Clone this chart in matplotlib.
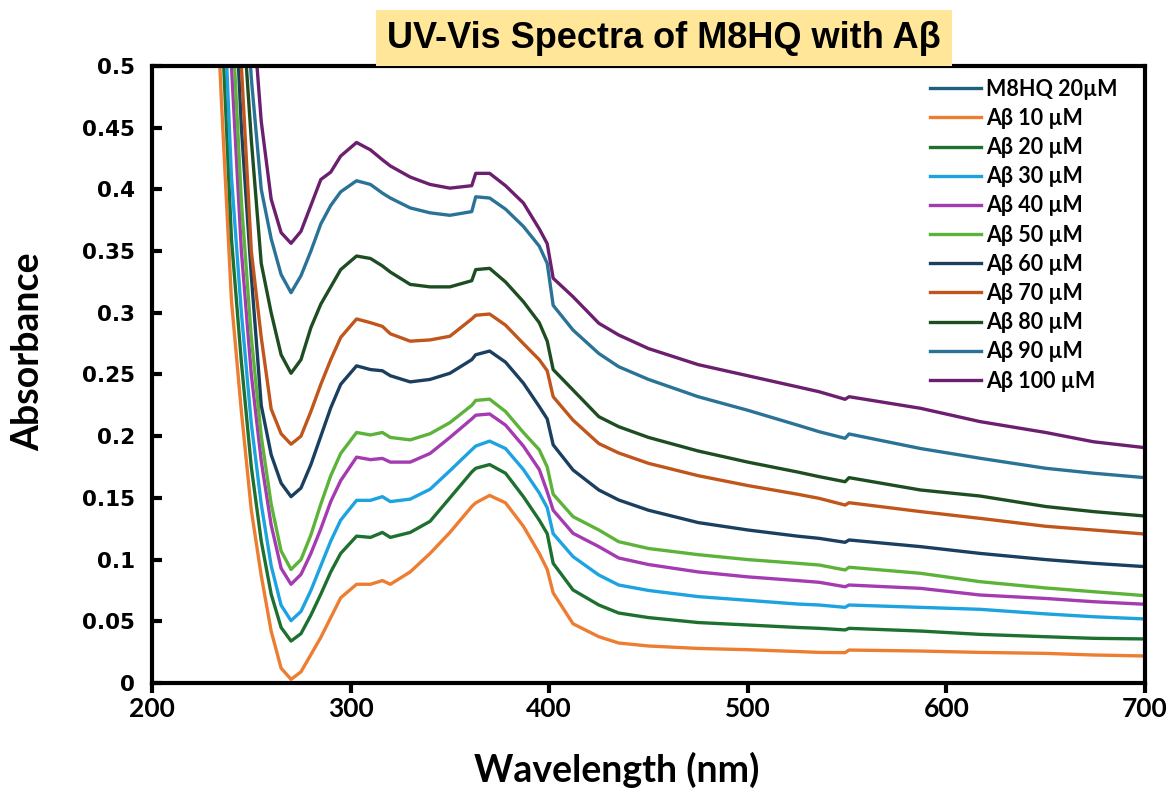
import numpy as np
import matplotlib
matplotlib.use("Agg")
import matplotlib.pyplot as plt

# wavelength grid (nm) shared by the A-beta series
wl = [228, 235, 240, 245, 250, 255, 260, 265, 270, 275, 280, 285, 290, 295,
      303, 310, 316, 320, 330, 340, 350, 361, 363, 370, 378, 387, 395, 399,
      402, 412, 425, 435, 450, 475, 500, 525, 536, 549, 551, 587, 617, 650,
      674, 700]

ab10 = [0.72, 0.47, 0.31, 0.22, 0.14, 0.087, 0.042, 0.012, 0.003, 0.009, 0.023, 0.037, 0.053, 0.069,
        0.080, 0.080, 0.083, 0.080, 0.090, 0.105, 0.122, 0.143, 0.146, 0.152, 0.146, 0.127, 0.105, 0.092,
        0.073, 0.048, 0.0375, 0.0324, 0.030, 0.028, 0.027, 0.0255, 0.0248, 0.0246, 0.0267, 0.0259, 0.0248, 0.0240,
        0.0227, 0.0219]
ab20 = [0.78, 0.54, 0.36, 0.26, 0.175, 0.115, 0.072, 0.045, 0.034, 0.040, 0.055, 0.072, 0.090, 0.105,
        0.119, 0.118, 0.122, 0.118, 0.122, 0.131, 0.150, 0.171, 0.174, 0.177, 0.170, 0.151, 0.132, 0.121,
        0.097, 0.0754, 0.0632, 0.0567, 0.053, 0.049, 0.047, 0.045, 0.0443, 0.043, 0.0443, 0.0421, 0.0394, 0.0375,
        0.0362, 0.0357]
ab30 = [0.84, 0.60, 0.41, 0.30, 0.21, 0.145, 0.095, 0.063, 0.0505, 0.058, 0.075, 0.095, 0.115, 0.132,
        0.148, 0.148, 0.151, 0.147, 0.149, 0.157, 0.172, 0.189, 0.192, 0.196, 0.190, 0.173, 0.154, 0.142,
        0.121, 0.1024, 0.0875, 0.0794, 0.075, 0.070, 0.067, 0.064, 0.0632, 0.0613, 0.0632, 0.0613, 0.0597, 0.056,
        0.0537, 0.0519]
ab40 = [0.90, 0.66, 0.50, 0.35, 0.25, 0.18, 0.128, 0.093, 0.080, 0.088, 0.105, 0.125, 0.147, 0.164,
        0.183, 0.181, 0.182, 0.179, 0.179, 0.186, 0.199, 0.214, 0.217, 0.218, 0.209, 0.192, 0.173, 0.155,
        0.140, 0.1213, 0.1105, 0.1013, 0.096, 0.090, 0.086, 0.083, 0.0816, 0.078, 0.0794, 0.0767, 0.0713, 0.0685,
        0.0659, 0.0638]
ab50 = [0.95, 0.72, 0.55, 0.39, 0.28, 0.20, 0.145, 0.107, 0.092, 0.100, 0.120, 0.145, 0.168, 0.186,
        0.203, 0.201, 0.203, 0.199, 0.197, 0.202, 0.211, 0.225, 0.229, 0.230, 0.220, 0.203, 0.189, 0.175,
        0.153, 0.1348, 0.124, 0.1145, 0.109, 0.104, 0.100, 0.097, 0.0956, 0.0916, 0.0938, 0.0889, 0.0821, 0.077,
        0.074, 0.0708]
ab60 = [0.98, 0.78, 0.62, 0.45, 0.33, 0.225, 0.185, 0.162, 0.151, 0.158, 0.177, 0.200, 0.223, 0.242,
        0.257, 0.254, 0.253, 0.249, 0.244, 0.246, 0.251, 0.262, 0.266, 0.269, 0.260, 0.243, 0.224, 0.214,
        0.193, 0.1726, 0.1564, 0.1483, 0.140, 0.130, 0.124, 0.119, 0.1172, 0.114, 0.1159, 0.1105, 0.105, 0.100,
        0.097, 0.0943]
ab70 = [1.0, 0.82, 0.66, 0.50, 0.35, 0.28, 0.222, 0.202, 0.1935, 0.200, 0.220, 0.242, 0.262, 0.280,
        0.295, 0.292, 0.289, 0.283, 0.277, 0.278, 0.281, 0.295, 0.298, 0.299, 0.290, 0.275, 0.262, 0.253,
        0.232, 0.213, 0.194, 0.1864, 0.178, 0.168, 0.160, 0.153, 0.1496, 0.1442, 0.1461, 0.1389, 0.1334, 0.127,
        0.124, 0.1207]
ab80 = [1.0, 0.85, 0.70, 0.56, 0.44, 0.34, 0.30, 0.266, 0.251, 0.262, 0.288, 0.307, 0.321, 0.335,
        0.346, 0.344, 0.338, 0.333, 0.323, 0.321, 0.321, 0.326, 0.335, 0.336, 0.325, 0.309, 0.292, 0.277,
        0.254, 0.2374, 0.2158, 0.2077, 0.199, 0.188, 0.179, 0.171, 0.1672, 0.1631, 0.1664, 0.1564, 0.1515, 0.143,
        0.1389, 0.1353]
ab90 = [1.0, 0.90, 0.76, 0.62, 0.49, 0.40, 0.36, 0.331, 0.3163, 0.330, 0.350, 0.372, 0.387, 0.398,
        0.407, 0.404, 0.397, 0.393, 0.385, 0.381, 0.379, 0.382, 0.394, 0.393, 0.384, 0.370, 0.354, 0.340,
        0.306, 0.286, 0.267, 0.2563, 0.246, 0.232, 0.221, 0.209, 0.2036, 0.1983, 0.2018, 0.190, 0.1821, 0.174,
        0.170, 0.1664]
ab100 = [1.0, 0.95, 0.82, 0.69, 0.56, 0.455, 0.392, 0.365, 0.3563, 0.366, 0.387, 0.408, 0.414, 0.427,
         0.438, 0.432, 0.424, 0.419, 0.410, 0.404, 0.401, 0.403, 0.413, 0.413, 0.403, 0.389, 0.368, 0.356,
         0.328, 0.313, 0.2915, 0.282, 0.271, 0.258, 0.249, 0.240, 0.236, 0.2299, 0.232, 0.2226, 0.2118, 0.203,
         0.1955, 0.1907]

# M8HQ alone only shows as a sliver at the left edge
m8hq_wl = [200, 201]
m8hq = [0.44, 1.2]

labels = ['M8HQ 20µM', 'Aβ 10 µM', 'Aβ 20 µM', 'Aβ 30 µM', 'Aβ 40 µM', 'Aβ 50 µM',
          'Aβ 60 µM', 'Aβ 70 µM', 'Aβ 80 µM', 'Aβ 90 µM', 'Aβ 100 µM']
colors = ['#1F6080', '#ED7D31', '#1D7030', '#1CA3E0', '#A43BB0', '#5DB33A',
          '#1B3F5E', '#C0561B', '#1E4D22', '#2A7397', '#6B1F6E']
series = [ab10, ab20, ab30, ab40, ab50, ab60, ab70, ab80, ab90, ab100]

fig = plt.figure(figsize=(11.73, 7.94), dpi=100)
ax = fig.add_axes([0.1296, 0.1398, 0.8465, 0.7771])

ax.plot(m8hq_wl, m8hq, color=colors[0], lw=2.4, label=labels[0])
for vals, c, lab in zip(series, colors[1:], labels[1:]):
    ax.plot(wl, vals, color=c, lw=2.4, label=lab)

ax.set_xlim(200, 700)
ax.set_ylim(0, 0.5)
ax.set_xticks([200, 300, 400, 500, 600, 700])
yt = [0, 0.05, 0.1, 0.15, 0.2, 0.25, 0.3, 0.35, 0.4, 0.45, 0.5]
ax.set_yticks(yt)
ax.set_yticklabels(['0', '0.05', '0.1', '0.15', '0.2', '0.25', '0.3', '0.35', '0.4', '0.45', '0.5'],
                   family='DejaVu Sans', fontweight='bold', fontsize=15.5)
ax.set_xticklabels(['200', '300', '400', '500', '600', '700'],
                   family='Lato', fontweight='bold', fontsize=19)
ax.tick_params(axis='y', direction='in', length=7, width=3, pad=12)
ax.tick_params(axis='x', direction='out', length=7, width=3, pad=3)
for s in ax.spines.values():
    s.set_linewidth(3)
    s.set_color('black')

fig.text(28 / 1173, 1 - 352 / 794, 'Absorbance', rotation=90, ha='center', va='center',
         family='Lato', fontweight='bold', fontsize=27)
fig.text(617 / 1173, 1 - 770 / 794, 'Wavelength (nm)', ha='center', va='center',
         family='Lato', fontweight='bold', fontsize=27)

fig.text(664 / 1173, 1 - 38 / 794, 'UV-Vis Spectra of M8HQ with Aβ', ha='center', va='center',
         family='Liberation Sans', fontweight='bold', fontsize=26,
         bbox=dict(boxstyle='square,pad=0.3', facecolor='#FFE699', edgecolor='none'))

leg = ax.legend(loc='upper left', bbox_to_anchor=(919 / 1173, 1 - 68 / 794),
                bbox_transform=fig.transFigure, frameon=False, borderpad=0,
                handlelength=2.4, handletextpad=0.2, labelspacing=0.38,
                prop={'family': 'Lato', 'weight': 'bold', 'size': 15.5})

fig.savefig('out.png', dpi=100)
